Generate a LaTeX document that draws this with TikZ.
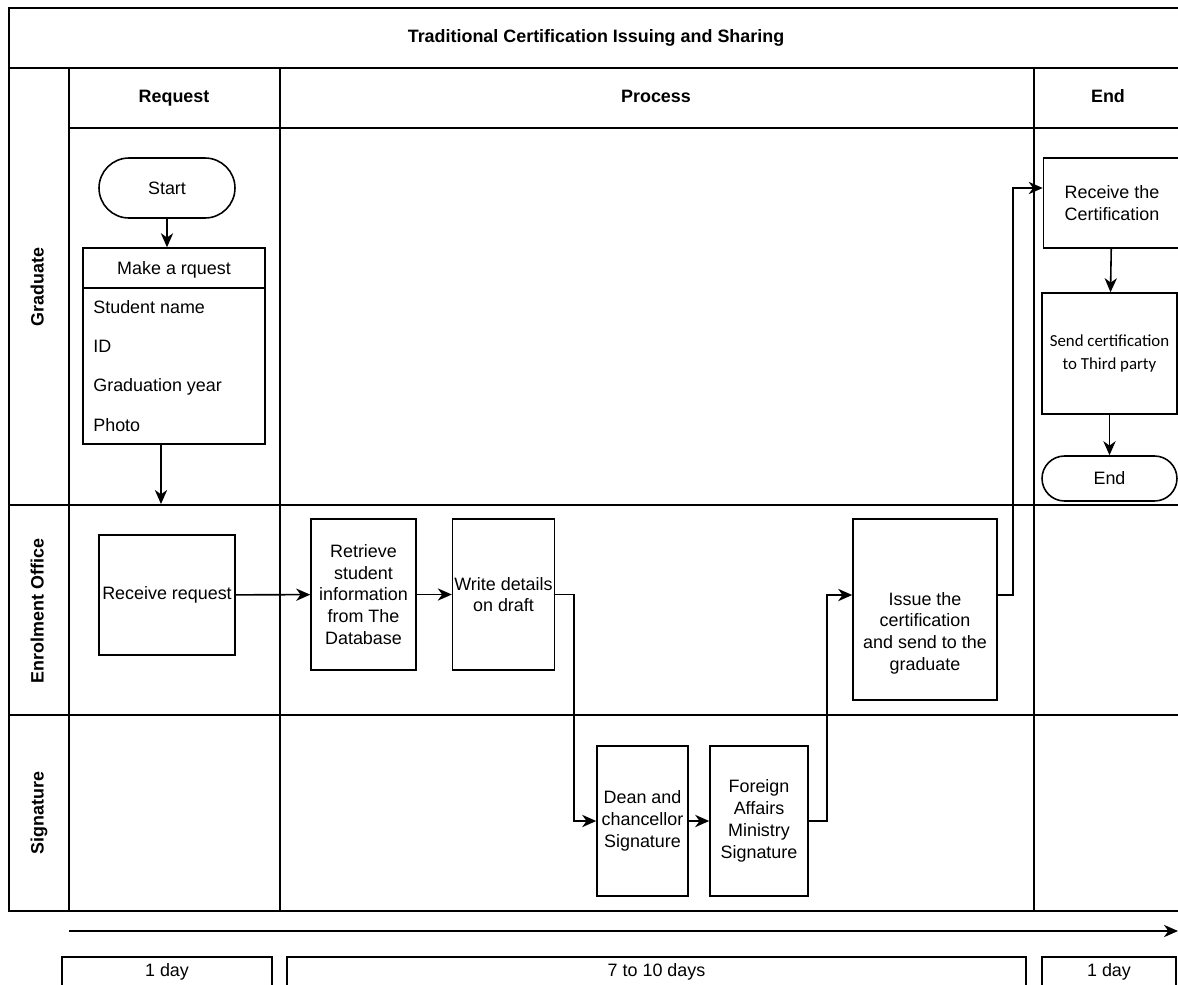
\documentclass[tikz,border=0pt]{standalone}
\usepackage{fontspec}
\setmainfont{Liberation Sans}
\newfontfamily\calfont{Carlito}
\usetikzlibrary{positioning, arrows.meta}

\tikzset{
  txt/.style={font=\fontsize{10.2}{12.4}\selectfont},
  box/.style={draw, line width=0.9pt, align=center, inner sep=1pt, txt},
  term/.style={box, rounded corners=0.6cm},
  item/.style={txt, anchor=west, inner sep=0pt, text height=1.6ex, text depth=0.4ex},
  head/.style={font=\bfseries\fontsize{10.2}{12.4}\selectfont, text height=1.6ex, text depth=0.4ex},
  lane/.style={head, rotate=90},
  grid/.style={line width=1pt},
  flow/.style={->, line width=0.9pt},
  >={Stealth[length=8pt,width=7pt,inset=2.5pt]}
}

\begin{document}
\begin{tikzpicture}[x=0.02cm, y=-0.02cm]
  \useasboundingbox (0,0) rectangle (1178,985);
  \clip (0,0) rectangle (1178,985);

  % swimlane frame
  \draw[grid] (1180,8) -- (9,8) -- (9,911) -- (1180,911);
  \draw[grid] (9,68) -- (1180,68);
  \draw[grid] (69,128) -- (1180,128);
  \draw[grid] (9,505) -- (1180,505);
  \draw[grid] (9,715) -- (1180,715);
  \foreach \cx in {69,280,1034}
    \draw[grid] (\cx,68) -- (\cx,911);

  \node[head] (title) at (596,37) {Traditional Certification Issuing and Sharing};
  \node[head] (hreq) at (174,97) {Request};
  \node[head] (hproc) at (656,97) {Process};
  \node[head] (hend) at (1108,97) {End};
  \node[lane] (lgrad) at (38,287) {Graduate};
  \node[lane] (lenrol) at (38,611) {Enrolment Office};
  \node[lane] (lsign) at (38,813) {Signature};

  % graduate lane
  \node[term, minimum width=2.72cm, minimum height=1.2cm] (start) at (167,188) {Start};
  \node[box, minimum width=3.64cm, minimum height=3.92cm] (request) at (174,346) {};
  \draw[line width=0.9pt] (83,288) -- (265,288);
  \node[txt, text height=1.6ex, text depth=0.4ex] (reqhead) at (174,269) {Make a rquest};
  \node[item] (fname) at (93,308) {Student name};
  \node[item] (fid) at (93,347) {ID};
  \node[item] (fyear) at (93,386) {Graduation year};
  \node[item] (fphoto) at (93,426) {Photo};
  \coordinate (reqout) at (161,504);

  \node[box, minimum width=2.74cm, minimum height=1.8cm] (rcvcert) at (1112,203) {Receive the\\Certification};
  \node[box, minimum width=2.7cm, minimum height=2.42cm,
        font=\calfont\fontsize{9.6}{12.8}\selectfont] (send) at (1109.5,353.5) {Send certification\\to Third party};
  \node[box, rounded corners=0.45cm, minimum width=2.7cm, minimum height=0.9cm] (finish) at (1109.5,478.5) {End};

  % enrolment office lane
  \node[box, minimum width=2.72cm, minimum height=2.4cm] (recv) at (167,595) {Receive request};
  \node[box, minimum width=2.1cm, minimum height=3.02cm] (retrieve) at (363.5,594.5) {Retrieve\\student\\information\\from The\\Database};
  \node[box, minimum width=2.02cm, minimum height=3.02cm] (write) at (503.5,594.5) {Write details\\on draft};
  \node[box, minimum width=2.88cm, minimum height=3.62cm,
        label={[txt, align=center, yshift=-13.5pt]center:Issue the\\certification\\and send to the\\graduate}] (issue) at (925,609.5) {};

  % signature lane
  \node[box, minimum width=1.82cm, minimum height=3cm] (dean) at (642.5,821) {Dean and\\chancellor\\Signature};
  \node[box, minimum width=1.96cm, minimum height=3cm] (foreign) at (759,821) {Foreign\\Affairs\\Ministry\\Signature};

  % connectors
  \draw[flow] (start) -- (start |- request.north);
  \draw[flow] (request.south -| reqout) -- (reqout);
  \draw[flow] (recv) -- (retrieve);
  \draw[flow] (retrieve) -- (write);
  \draw[flow] (write.east) -- ++(19,0) |- (dean.west);
  \draw[flow] (dean) -- (foreign);
  \draw[flow] (foreign.east) -- ++(18,0) |- (issue.west |- recv);
  \draw[flow] (issue.east |- recv) -- ++(15,0) |- (rcvcert.west |- start);
  \draw[flow] (rcvcert) -- (send);
  \draw[flow] (send) -- (finish);

  % time line
  \coordinate (tl0) at (69,931);
  \coordinate (tl1) at (1178,931);
  \draw[flow, line width=1pt] (tl0) -- (tl1);
  \node[box, minimum width=4.2cm, minimum height=0.6cm] (dur1) at (167,972) {1 day};
  \node[box, minimum width=14.78cm, minimum height=0.6cm] (dur2) at (656.5,972) {7 to 10 days};
  \node[box, minimum width=2.68cm, minimum height=0.6cm] (dur3) at (1109,972) {1 day};
\end{tikzpicture}
\end{document}
